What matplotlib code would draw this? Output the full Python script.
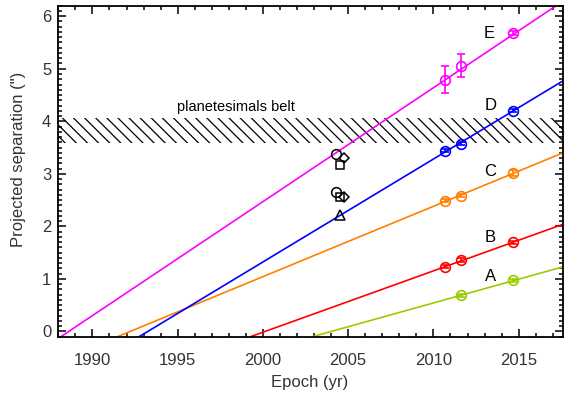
import matplotlib
matplotlib.use("Agg")
import matplotlib.pyplot as plt
from matplotlib.ticker import MultipleLocator

plt.rcParams['font.family'] = ['Liberation Sans', 'DejaVu Sans']
plt.rcParams['hatch.linewidth'] = 0.9

# ---- data ----
planet_names = ['A', 'B', 'C', 'D', 'E']
planet_colors = ['#99cc00', '#ff0000', '#ff8000', '#0000ff', '#ff00ff']

epochs_A = [2011.62, 2014.69]
sep_A = [0.69, 0.97]
err_A = [0.03, 0.03]

epochs_B = [2010.66, 2011.62, 2014.69]
sep_B = [1.23, 1.36, 1.70]
err_B = [0.03, 0.03, 0.03]

epochs_C = [2010.66, 2011.62, 2014.69]
sep_C = [2.49, 2.58, 3.01]
err_C = [0.03, 0.03, 0.06]

epochs_D = [2010.66, 2011.62, 2014.69]
sep_D = [3.44, 3.57, 4.20]
err_D = [0.03, 0.03, 0.03]

epochs_E = [2010.66, 2011.62, 2014.69]
sep_E = [4.79, 5.06, 5.68]
err_E = [0.26, 0.22, 0.03]

# fitted trend lines: start/end points
line_x0 = [2002.9, 1999.27, 1991.47, 1992.74, 1988.15]
line_y0 = [-0.1, -0.1, -0.1, -0.1, -0.1]
line_x1 = [2017.6, 2017.6, 2017.6, 2017.6, 2017.2]
line_y1 = [1.23, 2.04, 3.40, 4.77, 6.2]

label_x = [2013.35, 2013.35, 2013.35, 2013.35, 2013.3]
label_y = [1.05, 1.79, 3.04, 4.31, 5.68]

# black archival points (2004)
circ_x = [2004.30, 2004.30]
circ_y = [3.38, 2.66]
sq_x = [2004.55, 2004.52]
sq_y = [3.17, 2.55]
dia_x = [2004.73, 2004.77]
dia_y = [3.30, 2.55]
tri_x = [2004.50]
tri_y = [2.22]

belt_low, belt_high = 3.58, 4.07
belt_label = 'planetesimals belt'

# ---- figure ----
fig = plt.figure(figsize=(5.64, 4.0), dpi=100)
ax = fig.add_axes([58.3/564, 1-336.7/400, (563-58.3)/564, (336.7-5.7)/400])

ax.set_xlim(1988, 2017.6)
ax.set_ylim(-0.1, 6.2)

ax.fill_between([1988, 2017.6], belt_low, belt_high, facecolor='none',
                edgecolor='black', hatch='\\\\\\', linewidth=0)
ax.text(1998.43, 4.28, belt_label, fontsize=10.5, ha='center', va='center')

epochs = [epochs_A, epochs_B, epochs_C, epochs_D, epochs_E]
seps = [sep_A, sep_B, sep_C, sep_D, sep_E]
errs = [err_A, err_B, err_C, err_D, err_E]
for i in range(5):
    c = planet_colors[i]
    ax.plot([line_x0[i], line_x1[i]], [line_y0[i], line_y1[i]], color=c, lw=1.2)
    ax.errorbar(epochs[i], seps[i], yerr=errs[i], fmt='o', mfc='none', mec=c,
                ecolor=c, ms=7, mew=1.2, elinewidth=1.2, capsize=3, capthick=1.2)
    ax.text(label_x[i], label_y[i], planet_names[i], fontsize=12, ha='center',
            va='center')

ax.plot(circ_x, circ_y, 'o', mfc='none', mec='black', ms=7, mew=1.1)
ax.plot(sq_x, sq_y, 's', mfc='none', mec='black', ms=6, mew=1.1)
ax.plot(dia_x, dia_y, 'D', mfc='none', mec='black', ms=5, mew=1.1)
ax.plot(tri_x, tri_y, '^', mfc='none', mec='black', ms=7, mew=1.1)

ax.xaxis.set_major_locator(MultipleLocator(5))
ax.xaxis.set_minor_locator(MultipleLocator(1))
ax.yaxis.set_major_locator(MultipleLocator(1))
ax.yaxis.set_minor_locator(MultipleLocator(0.1))
ax.tick_params(which='both', direction='in', top=True, right=True, width=1.1)
ax.tick_params(which='major', length=5.5, labelsize=12)
ax.tick_params(axis='x', which='major', pad=12)
ax.tick_params(axis='y', which='major', pad=5)
ax.tick_params(which='minor', length=2.8)
for s in ax.spines.values():
    s.set_linewidth(1.3)
for t in ax.get_xticklabels() + ax.get_yticklabels():
    t.set_color('#333333')

fig.text(310/564, 1-383/400, 'Epoch (yr)', fontsize=12, ha='center', va='center',
         color='#333333')
fig.text(18.5/564, 1-159/400, 'Projected separation (")', fontsize=12,
         rotation=90, ha='center', va='center', color='#333333')

fig.savefig('out.png', dpi=100)
